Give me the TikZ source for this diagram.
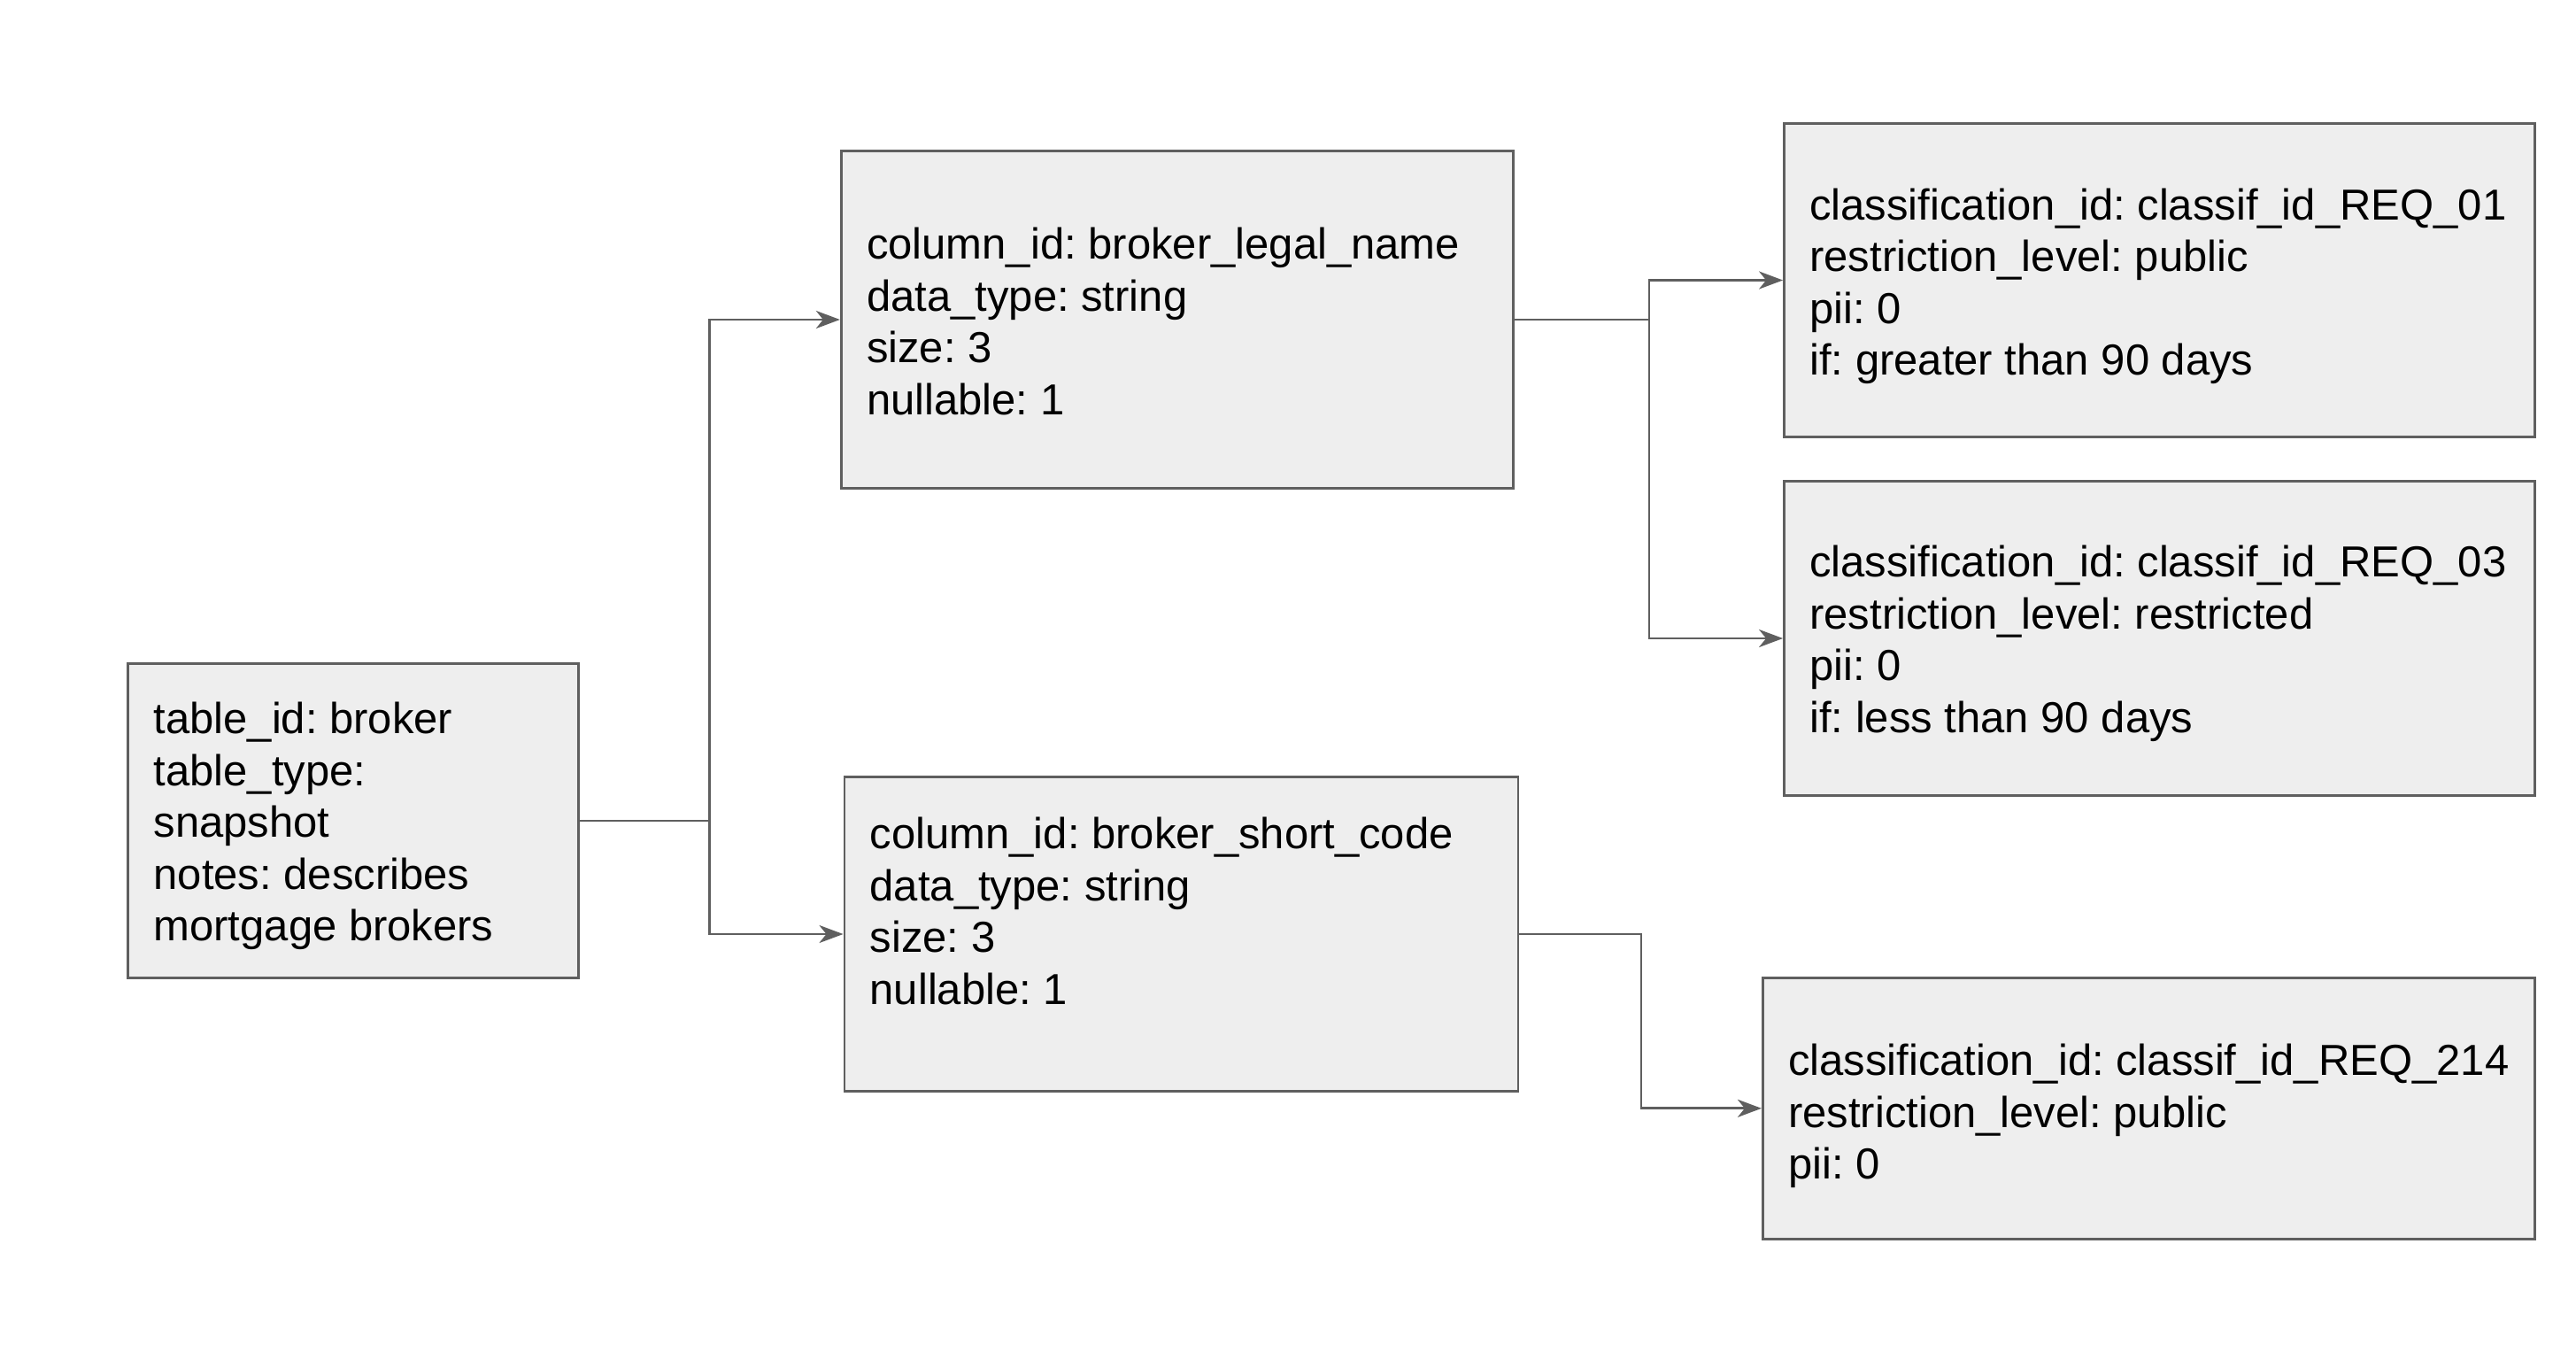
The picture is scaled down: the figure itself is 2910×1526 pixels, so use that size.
\documentclass[tikz,border=0pt]{standalone}
\usepackage{fontspec}
\setmainfont{Liberation Sans}
\frenchspacing
\usetikzlibrary{arrows.meta}
\definecolor{boxfill}{HTML}{EEEEEE}
\definecolor{edge}{HTML}{5F5F5F}
\tikzset{
  box/.style={draw=edge, fill=boxfill, line width=2.8pt, rectangle, inner sep=0pt},
  txt/.style={anchor=west, align=left, inner sep=0pt, text=black, font=\fontsize{49}{58.5}\selectfont},
  conn/.style={draw=edge, line width=2.8pt, -{Stealth[length=27pt,width=20pt,inset=8pt]}}
}
\begin{document}
\frenchspacing
\begin{tikzpicture}[x=1pt,y=-1pt]
\useasboundingbox (0,0) rectangle (2910,1526);
% boxes
\node[box, minimum width=508.5pt, minimum height=354.5pt] (b1) at (399,927) {};
\node[box, minimum width=759pt, minimum height=380.5pt] (b2) at (1329.75,361) {};
\node[box, minimum width=761pt, minimum height=354.5pt] (b3) at (1334.4,1055) {};
\node[box, minimum width=848pt, minimum height=354.5pt] (b4) at (2439.5,316.5) {};
\node[box, minimum width=848pt, minimum height=354.5pt] (b5) at (2439.5,721) {};
\node[box, minimum width=872.3pt, minimum height=295pt] (b6) at (2427.5,1251.8) {};
% texts
\node[txt] (t1) at ([xshift=30pt,yshift=-6pt]b1.west) {table\_id: broker\\table\_type:\\snapshot\\notes: describes\\mortgage brokers};
\node[txt] (t2) at ([xshift=30pt,yshift=-2pt]b2.west) {column\_id: broker\_legal\_name\\data\_type: string\\size: 3\\nullable: 1};
\node[txt] (t3) at ([xshift=30pt,yshift=26pt]b3.west) {column\_id: broker\_short\_code\\data\_type: string\\size: 3\\nullable: 1};
\node[txt] (t4) at ([xshift=30pt,yshift=-7pt]b4.west) {classification\_id: classif\_id\_REQ\_01\\restriction\_level: public\\pii: 0\\if: greater than 90 days};
\node[txt] (t5) at ([xshift=30pt,yshift=-6pt]b5.west) {classification\_id: classif\_id\_REQ\_03\\restriction\_level: restricted\\pii: 0\\if: less than 90 days};
\node[txt] (t6) at ([xshift=30pt,yshift=-9pt]b6.west) {classification\_id: classif\_id\_REQ\_214\\restriction\_level: public\\pii: 0};
% junctions
\coordinate (j1) at (801.7,927);
\coordinate (j2) at (1863,361);
\coordinate (j3) at (1854,1055);
% connectors
\draw[conn] (b1.east) -- (j1) |- (b2.west);
\draw[conn] (j1) |- (b3.west);
\draw[conn] (b2.east) -- (j2) |- (b4.west);
\draw[conn] (j2) |- (b5.west);
\draw[conn] (b3.east) -- (j3) |- (b6.west);
\end{tikzpicture}
\end{document}
